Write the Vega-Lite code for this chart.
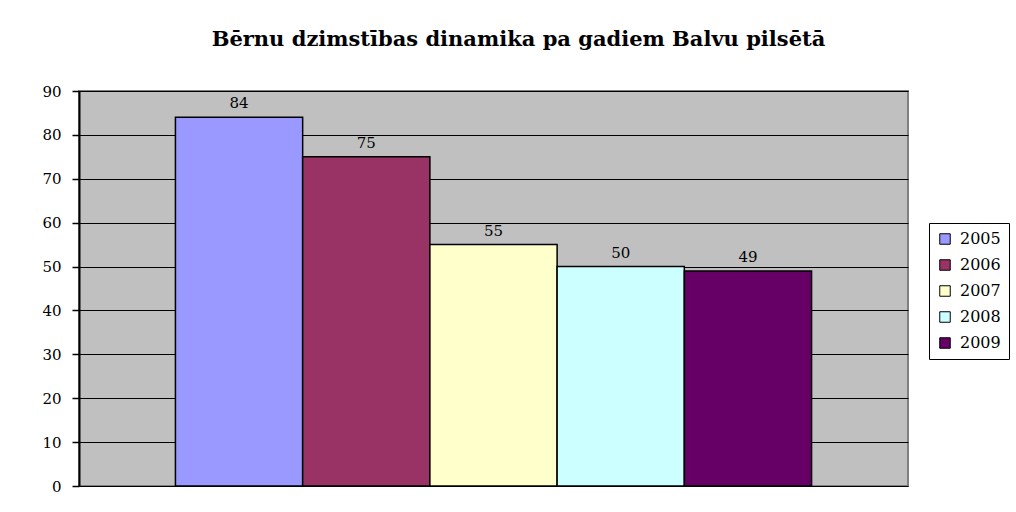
{
  "$schema": "https://vega.github.io/schema/vega-lite/v6.json",
  "autosize": {"type": "none"},
  "padding": {"left": 79, "top": 91, "right": 108, "bottom": 26},
  "width": 829,
  "height": 395,
  "background": "white",
  "title": {
    "text": "Bērnu dzimstības dinamika pa gadiem Balvu pilsētā",
    "font": "DejaVu Serif",
    "fontSize": 21,
    "fontWeight": "bold",
    "color": "black",
    "anchor": "middle",
    "frame": "group",
    "dx": 25,
    "offset": 34
  },
  "data": {
    "values": [
      {"year": "2005", "births": 84},
      {"year": "2006", "births": 75},
      {"year": "2007", "births": 55},
      {"year": "2008", "births": 50},
      {"year": "2009", "births": 49}
    ]
  },
  "encoding": {
    "x": {
      "field": "year",
      "type": "nominal",
      "axis": null,
      "scale": {"paddingInner": 0, "paddingOuter": 0.758}
    },
    "y": {
      "field": "births",
      "type": "quantitative",
      "scale": {"domain": [0, 90], "nice": false},
      "axis": {
        "title": null,
        "values": [0, 10, 20, 30, 40, 50, 60, 70, 80, 90],
        "grid": true,
        "gridColor": "black",
        "gridWidth": 1,
        "gridOpacity": 1,
        "domain": true,
        "domainColor": "black",
        "domainWidth": 2,
        "ticks": true,
        "tickColor": "black",
        "tickSize": 7,
        "tickWidth": 1.5,
        "labelFont": "DejaVu Serif",
        "labelFontSize": 15,
        "labelColor": "black",
        "labelPadding": 11
      }
    }
  },
  "layer": [
    {
      "mark": {"type": "bar", "stroke": "black", "strokeWidth": 1.5},
      "encoding": {
        "color": {
          "field": "year",
          "type": "nominal",
          "scale": {
            "domain": ["2005", "2006", "2007", "2008", "2009"],
            "range": ["#9999FF", "#993366", "#FFFFCC", "#CCFFFF", "#660066"]
          },
          "legend": {
            "title": null,
            "orient": "none",
            "legendX": 850,
            "legendY": 132,
            "strokeColor": "black",
            "fillColor": "white",
            "padding": 8,
            "symbolType": "square",
            "symbolSize": 110,
            "symbolStrokeColor": "black",
            "symbolStrokeWidth": 1,
            "symbolOpacity": 1,
            "labelFont": "DejaVu Serif",
            "labelFontSize": 16,
            "labelColor": "black",
            "labelOffset": 7,
            "rowPadding": 10
          }
        }
      }
    },
    {
      "mark": {
        "type": "text",
        "baseline": "bottom",
        "dy": -6,
        "font": "DejaVu Serif",
        "fontSize": 15,
        "color": "black"
      },
      "encoding": {"text": {"field": "births", "type": "quantitative"}}
    }
  ],
  "config": {
    "view": {"fill": "#C0C0C0", "stroke": "#808080", "strokeWidth": 2}
  }
}
